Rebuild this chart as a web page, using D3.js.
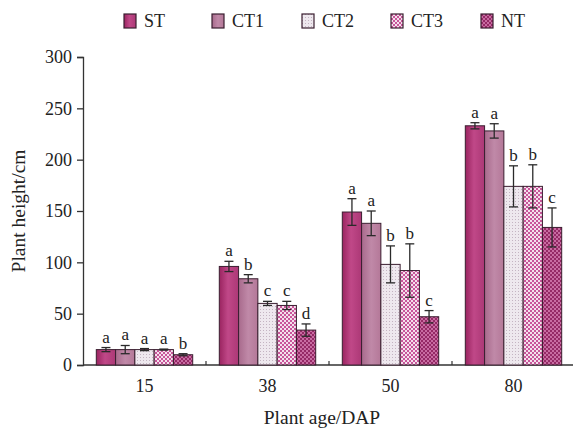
<!DOCTYPE html>
<html>
<head>
<meta charset="utf-8">
<script src="https://cdn.jsdelivr.net/npm/d3@7"></script>
<style>
  body { margin: 0; background: #fff; }
  text { font-family: "Liberation Serif", "Times New Roman", serif; fill: #222; }
</style>
</head>
<body>
<script>
const ages = ['15', '38', '50', '80'];
const series = ['ST', 'CT1', 'CT2', 'CT3', 'NT'];
const means = {
    ST:  [15, 96, 149, 233],
    CT1: [15, 84, 138, 228],
    CT2: [15, 60, 98, 174],
    CT3: [15, 58, 92, 174],
    NT:  [10, 34, 47, 134]
};
const errs = {
    ST:  [2, 5, 13, 3],
    CT1: [4, 4, 12, 7],
    CT2: [1, 2, 18, 20],
    CT3: [0.5, 4, 26, 21],
    NT:  [1, 6, 6, 19]
};
const letters = {
    ST:  ['a', 'a', 'a', 'a'],
    CT1: ['a', 'b', 'a', 'a'],
    CT2: ['a', 'c', 'b', 'b'],
    CT3: ['a', 'c', 'b', 'b'],
    NT:  ['b', 'd', 'c', 'c']
};
const yTicks = [0, 50, 100, 150, 200, 250, 300];

const W = 573, H = 429;
const plotLeft = 83, plotRight = 575, plotTop = 57, plotBottom = 365;

const svg = d3.select("body").append("svg")
    .attr("width", W)
    .attr("height", H);

const defs = svg.append("defs");

// ST: gradient magenta
const gST = defs.append("linearGradient").attr("id", "gST")
    .attr("x1", "0%").attr("x2", "100%").attr("y1", "0%").attr("y2", "0%");
gST.append("stop").attr("offset", "0%").attr("stop-color", "#9a2460");
gST.append("stop").attr("offset", "45%").attr("stop-color", "#c04888");
gST.append("stop").attr("offset", "100%").attr("stop-color", "#ac3876");

// CT1: gradient mauve
const gCT1 = defs.append("linearGradient").attr("id", "gCT1")
    .attr("x1", "0%").attr("x2", "100%").attr("y1", "0%").attr("y2", "0%");
gCT1.append("stop").attr("offset", "0%").attr("stop-color", "#a86a8c");
gCT1.append("stop").attr("offset", "50%").attr("stop-color", "#c089a8");
gCT1.append("stop").attr("offset", "100%").attr("stop-color", "#b47898");

// CT2: light dotted
const pCT2 = defs.append("pattern").attr("id", "pCT2")
    .attr("width", 3).attr("height", 3).attr("patternUnits", "userSpaceOnUse");
pCT2.append("rect").attr("width", 3).attr("height", 3).attr("fill", "#eee8ee");
pCT2.append("rect").attr("width", 1).attr("height", 1).attr("fill", "#c4b4c2");

// CT3: pink/white checks
const pCT3 = defs.append("pattern").attr("id", "pCT3")
    .attr("width", 4).attr("height", 4).attr("patternUnits", "userSpaceOnUse");
pCT3.append("rect").attr("width", 4).attr("height", 4).attr("fill", "#f4e0ec");
pCT3.append("rect").attr("width", 2).attr("height", 2).attr("fill", "#c8559a");
pCT3.append("rect").attr("x", 2).attr("y", 2).attr("width", 2).attr("height", 2).attr("fill", "#c8559a");

// NT: dark magenta checks
const pNT = defs.append("pattern").attr("id", "pNT")
    .attr("width", 4).attr("height", 4).attr("patternUnits", "userSpaceOnUse");
pNT.append("rect").attr("width", 4).attr("height", 4).attr("fill", "#c86ca2");
pNT.append("rect").attr("width", 2).attr("height", 2).attr("fill", "#952a66");
pNT.append("rect").attr("x", 2).attr("y", 2).attr("width", 2).attr("height", 2).attr("fill", "#952a66");

const fills = {ST: "url(#gST)", CT1: "url(#gCT1)", CT2: "url(#pCT2)", CT3: "url(#pCT3)", NT: "url(#pNT)"};

const x0 = d3.scaleBand().domain(ages).range([plotLeft, plotRight]).padding(0);
const x1 = d3.scaleBand().domain(series).range([0, x0.bandwidth()])
    .paddingInner(0).paddingOuter(0.69);
const y = d3.scaleLinear().domain([0, 300]).range([plotBottom, plotTop]);

// y axis
const yAxis = svg.append("g")
    .attr("transform", `translate(${plotLeft},0)`)
    .call(d3.axisLeft(y).tickValues(yTicks).tickSize(6).tickPadding(5));
yAxis.select(".domain").attr("stroke", "#333").attr("stroke-width", 1.3);
yAxis.selectAll(".tick line").attr("stroke", "#333").attr("stroke-width", 1.3);
yAxis.selectAll(".tick text")
    .style("font-family", "Liberation Serif, serif")
    .style("font-size", "18px").attr("fill", "#222");

// x axis baseline
svg.append("line")
    .attr("x1", plotLeft).attr("x2", W)
    .attr("y1", y(0)).attr("y2", y(0))
    .attr("stroke", "#333").attr("stroke-width", 1.3);

// group separators (small ticks)
svg.selectAll(".sep")
    .data(ages.slice(1))
    .enter().append("line")
    .attr("x1", d => x0(d)).attr("x2", d => x0(d))
    .attr("y1", y(0)).attr("y2", y(0) - 4)
    .attr("stroke", "#333").attr("stroke-width", 1.2);

// x tick labels
svg.selectAll(".xlab")
    .data(ages)
    .enter().append("text")
    .attr("x", d => x0(d) + x0.bandwidth() / 2)
    .attr("y", 392)
    .attr("text-anchor", "middle")
    .style("font-size", "18px")
    .text(d => d);

// bars
const groups = svg.selectAll(".grp")
    .data(ages)
    .enter().append("g")
    .attr("transform", d => `translate(${x0(d)},0)`);

groups.each(function(age, i) {
    const g = d3.select(this);
    series.forEach(s => {
        const v = means[s][i], e = errs[s][i];
        const bx = x1(s), bw = x1.bandwidth(), cx = bx + bw / 2;
        g.append("rect")
            .attr("x", bx).attr("y", y(v))
            .attr("width", bw).attr("height", y(0) - y(v))
            .attr("fill", fills[s])
            .attr("stroke", "#3a1e30").attr("stroke-width", 1);
        g.append("line")
            .attr("x1", cx).attr("x2", cx)
            .attr("y1", y(v + e)).attr("y2", y(v - e))
            .attr("stroke", "#2a2a2a").attr("stroke-width", 1.3);
        [v + e, v - e].forEach(t => {
            g.append("line")
                .attr("x1", cx - 4.5).attr("x2", cx + 4.5)
                .attr("y1", y(t)).attr("y2", y(t))
                .attr("stroke", "#2a2a2a").attr("stroke-width", 1.3);
        });
        g.append("text")
            .attr("x", cx)
            .attr("y", y(v + e) - 5)
            .attr("text-anchor", "middle")
            .style("font-size", "17px")
            .text(letters[s][i]);
    });
});

// axis titles
svg.append("text")
    .attr("transform", `translate(25,${(plotTop + plotBottom) / 2}) rotate(-90)`)
    .attr("text-anchor", "middle")
    .style("font-size", "19.5px")
    .text("Plant height/cm");

svg.append("text")
    .attr("x", 322).attr("y", 424)
    .attr("text-anchor", "middle")
    .style("font-size", "19.5px")
    .text("Plant age/DAP");

// legend
const legX = [124, 212, 302, 391, 481];
const leg = svg.selectAll(".leg")
    .data(series)
    .enter().append("g")
    .attr("transform", (d, i) => `translate(${legX[i]},14)`);
leg.append("rect")
    .attr("width", 12).attr("height", 14)
    .attr("fill", d => fills[d])
    .attr("stroke", "#3a1e30").attr("stroke-width", 1.2);
leg.append("text")
    .attr("x", 20).attr("y", 13)
    .style("font-size", "18px")
    .text(d => d);
</script>
</body>
</html>
